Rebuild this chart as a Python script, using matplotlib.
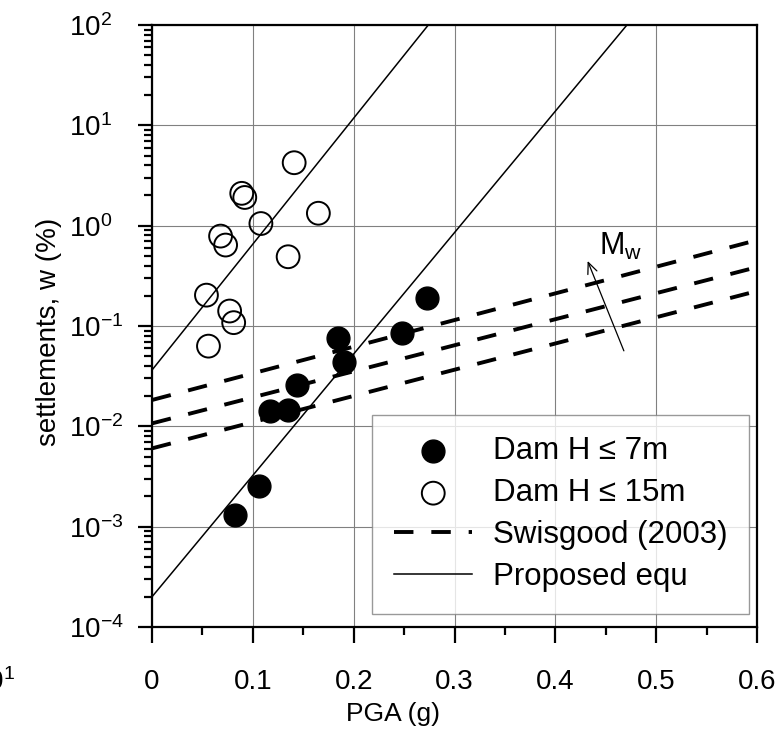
import matplotlib
matplotlib.use("Agg")
import matplotlib.pyplot as plt
from matplotlib.ticker import MultipleLocator, LogLocator, FuncFormatter, NullFormatter
import numpy as np

plt.rcParams['font.family'] = ['Liberation Sans', 'DejaVu Sans']
plt.rcParams['mathtext.fontset'] = 'custom'
plt.rcParams['mathtext.rm'] = 'Liberation Sans'

# Dados
pga_7m = [0.082, 0.106, 0.117, 0.135, 0.144, 0.184, 0.190, 0.248, 0.273]
w_7m = [0.0013, 0.00254, 0.0142, 0.0146, 0.0258, 0.0762, 0.044, 0.0843, 0.188]

pga_15m = [0.054, 0.056, 0.068, 0.073, 0.077, 0.081, 0.089, 0.092, 0.108, 0.135, 0.141, 0.165]
w_15m = [0.203, 0.063, 0.787, 0.641, 0.141, 0.108, 2.10, 1.91, 1.05, 0.49, 4.24, 1.33]

# Swisgood (2003), tres magnitudes
pga_swis = [0.0, 0.6]
w_swis_alto = [0.0183, 0.718]
w_swis_medio = [0.0107, 0.386]
w_swis_baixo = [0.00603, 0.223]

# Equacao proposta
pga_prop1 = [0.0, 0.274]
w_prop1 = [0.0364, 100.0]
pga_prop2 = [0.0, 0.471]
w_prop2 = [2.0e-4, 100.0]

# Seta de Mw
seta_ini = (0.469, 0.0533)
seta_fim = (0.431, 0.472)
mw_pos = (0.4437, 0.509)

fig = plt.figure(figsize=(7.77, 7.33), dpi=100)
ax = fig.add_axes([152 / 777, 1 - 627 / 733, 605 / 777, 602 / 733])
ax.set_yscale('log')
ax.set_xlim(0, 0.6)
ax.set_ylim(1e-4, 1e2)

ax.grid(True, which='major', color='#808080', linewidth=0.8, zorder=0)
ax.set_axisbelow(True)

# Linhas tracejadas de Swisgood
for i, w in enumerate([w_swis_alto, w_swis_medio, w_swis_baixo]):
    ax.plot(pga_swis, w, color='black', linewidth=2.8, dashes=(5, 4.6),
            solid_capstyle='butt', zorder=2, label='Swisgood (2003)' if i == 0 else None)

# Linhas da equacao proposta
ax.plot(pga_prop1, w_prop1, color='black', linewidth=1.1, zorder=2, label='Proposed equ')
ax.plot(pga_prop2, w_prop2, color='black', linewidth=1.1, zorder=2)

ax.scatter(pga_7m, w_7m, s=270, color='black', zorder=4, label='Dam H \u2264 7m')
ax.scatter(pga_15m, w_15m, s=270, facecolors='none', edgecolors='black',
           linewidths=1.4, zorder=4, label='Dam H \u2264 15m')

ax.annotate('', xy=seta_fim, xytext=seta_ini,
            arrowprops=dict(arrowstyle='->,head_length=0.8,head_width=0.35', lw=0.9, color='black'))
ax.text(mw_pos[0], mw_pos[1], r'M$_\mathdefault{w}$', fontsize=22, ha='left', va='baseline')

# Eixos e ticks
ax.xaxis.set_major_locator(MultipleLocator(0.1))
ax.xaxis.set_minor_locator(MultipleLocator(0.05))
ax.xaxis.set_major_formatter(FuncFormatter(lambda v, p: '0' if abs(v) < 1e-9 else f'{v:.1f}'))
ax.yaxis.set_major_locator(LogLocator(base=10, numticks=20))
ax.yaxis.set_minor_locator(LogLocator(base=10, subs=np.arange(2, 10), numticks=20))
ax.yaxis.set_minor_formatter(NullFormatter())

ax.tick_params(axis='both', which='major', labelsize=20, width=1.6, direction='out')
ax.tick_params(axis='x', which='major', length=11.5, pad=19)
ax.tick_params(axis='y', which='major', length=10, pad=50)
ax.tick_params(axis='both', which='minor', length=5.5, width=1.6, direction='out')
for lbl in ax.get_yticklabels():
    lbl.set_horizontalalignment('left')
for sp in ax.spines.values():
    sp.set_linewidth(1.6)

ax.set_xlabel('PGA (g)', fontsize=19)
ax.set_ylabel('settlements, w (%)', fontsize=20)
ax.xaxis.set_label_coords((393 - 152) / 605, -0.125)
ax.yaxis.set_label_coords(-0.149, 0.49)

handles, labels = ax.get_legend_handles_labels()
ordem = ['Dam H \u2264 7m', 'Dam H \u2264 15m', 'Swisgood (2003)', 'Proposed equ']
h = [handles[labels.index(l)] for l in ordem]
leg = ax.legend(h, ordem, loc='lower right', bbox_to_anchor=(0.987, 0.0216),
                fontsize=22.5, frameon=True, fancybox=False, edgecolor='#808080',
                handlelength=2.5, handletextpad=0.65, labelspacing=0.38,
                borderpad=0.7, borderaxespad=0)
leg.get_frame().set_linewidth(1.0)
leg.set_zorder(5)

# resto de rotulo cortado na margem esquerda
fig.text(15 / 777, (733 - 690) / 733, r'$\mathdefault{10^{1}}$', fontsize=20,
         ha='right', va='baseline')

fig.savefig('out.png', dpi=100)
